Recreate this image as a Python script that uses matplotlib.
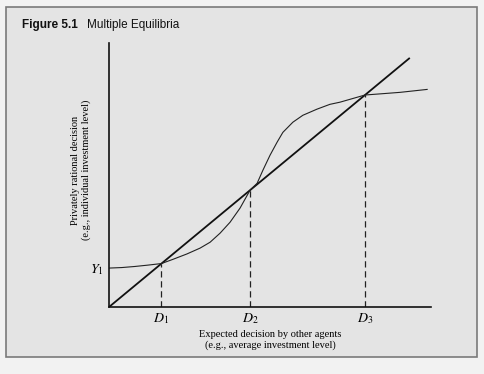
import numpy as np
import matplotlib
matplotlib.use("Agg")
import matplotlib.pyplot as plt
from matplotlib.patches import Rectangle

# points (data units, 45-degree line is y = x)
curve_x = [0.0, 0.4, 0.8, 1.2, 1.63, 1.99, 2.42, 2.83, 3.14, 3.45, 3.76, 4.07,
           4.38, 4.60, 4.78, 5.0, 5.22, 5.40, 5.71, 6.02, 6.46, 6.86, 7.17,
           7.95, 8.5, 9.04, 9.5, 9.88]
curve_y = [1.46, 1.48, 1.52, 1.57, 1.63, 1.79, 1.99, 2.21, 2.43, 2.77, 3.18, 3.71,
           4.38, 4.64, 5.13, 5.69, 6.18, 6.55, 6.93, 7.19, 7.42, 7.60, 7.68,
           7.95, 8.0, 8.05, 8.11, 8.16]
line_x = [0.0, 9.32]
equilibria = [1.63, 4.38, 7.95]
eq_labels = ["$D_1$", "$D_2$", "$D_3$"]
y1_value = 1.46

plt.rcParams["font.family"] = ["Liberation Serif", "DejaVu Serif"]
plt.rcParams["mathtext.fontset"] = "stix"

fig = plt.figure(figsize=(4.84, 3.74), dpi=100)
fig.patch.set_facecolor("#f2f2f2")
frame = Rectangle((0.0124, 0.0455), 0.973, 0.936, transform=fig.transFigure,
                  facecolor="#e4e4e4", edgecolor="#7a7a7a", lw=1.2, zorder=-10)
fig.patches.append(frame)

fig.text(0.045, 0.932, "Figure 5.1", family="Liberation Sans", weight="bold", fontsize=8.5,
         va="center", color="#111111")
fig.text(0.18, 0.932, "Multiple Equilibria", family="Liberation Sans", fontsize=8.5,
         va="center", color="#111111")

ax = fig.add_axes([0.2252, 0.1791, 0.6653, 0.7059])
ax.set_facecolor("none")
ax.set_xlim(0, 10)
ax.set_ylim(0, 9.9)
for s in ["top", "right"]:
    ax.spines[s].set_visible(False)
for s in ["left", "bottom"]:
    ax.spines[s].set_linewidth(1.2)
    ax.spines[s].set_color("#111111")

ax.plot(line_x, line_x, color="#111111", lw=1.3)
ax.plot(curve_x, curve_y, color="#222222", lw=0.8)
for d in equilibria:
    ax.plot([d, d], [0, d], color="#222222", lw=0.9, dashes=(5, 3))

ax.set_xticks(equilibria)
ax.set_xticklabels(eq_labels, fontsize=10)
ax.tick_params(axis="x", length=0, pad=3)
ax.set_yticks([y1_value])
ax.set_yticklabels(["$Y_1$"], fontsize=10)
ax.tick_params(axis="y", length=0, pad=4)

fig.text(270 / 484, 1 - 340 / 374,
         "Expected decision by other agents\n(e.g., average investment level)",
         fontsize=7.5, linespacing=1.15, ha="center", va="center")
fig.text(81 / 484, 1 - 170 / 374,
         "Privately rational decision\n(e.g., individual investment level)",
         fontsize=7.5, linespacing=1.1, ha="center", va="center", rotation=90)

fig.savefig("out.png", dpi=100, facecolor=fig.get_facecolor())
